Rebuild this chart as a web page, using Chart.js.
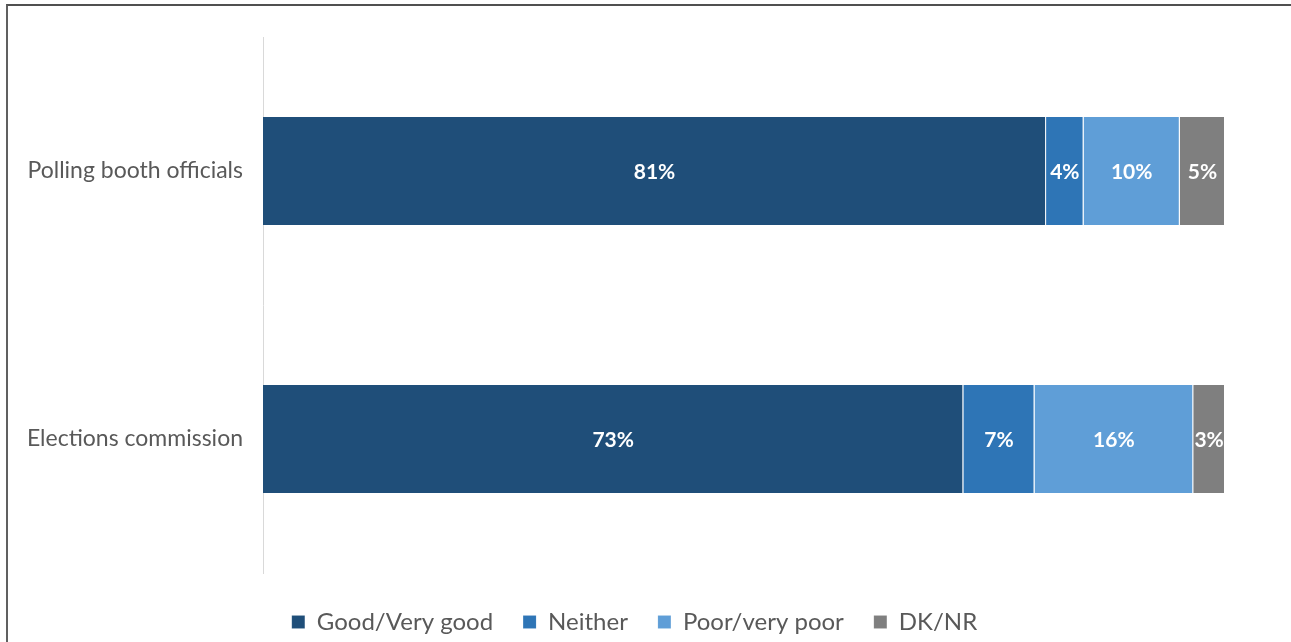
<!DOCTYPE html>
<html>
<head>
<meta charset="utf-8">
<script src="https://cdn.jsdelivr.net/npm/chart.js@4.4.1/dist/chart.umd.min.js"></script>
<style>
  html, body { margin: 0; padding: 0; background: #fff; overflow: hidden; }
  #wrap { position: relative; width: 1291px; height: 642px; overflow: hidden; }
  #frame { position: absolute; left: 6px; top: 4px; right: -10px; bottom: -10px;
           border-left: 2px solid #606060; border-top: 2px solid #505050; pointer-events: none; }
  canvas { position: absolute; left: 0; top: 0; }
</style>
</head>
<body>
<div id="wrap">
  <canvas id="c" width="1291" height="644"></canvas>
  <div id="frame"></div>
</div>
<script>
const categories = ["Polling booth officials", "Elections commission"];
const seriesNames = ["Good/Very good", "Neither", "Poor/very poor", "DK/NR"];
const goodVeryGood = [81.4, 72.8];
const neither = [3.9, 7.4];
const poorVeryPoor = [10.0, 16.5];
const dkNr = [4.7, 3.3];
const goodLabels = ["81%", "73%"];
const neitherLabels = ["4%", "7%"];
const poorLabels = ["10%", "16%"];
const dkLabels = ["5%", "3%"];
const colors = ["#1F4E79", "#2E75B6", "#5F9ED7", "#7F7F7F"];

const FONT = "Lato, 'Open Sans', sans-serif";

const seriesValues = [goodVeryGood, neither, poorVeryPoor, dkNr];
const seriesLabels = [goodLabels, neitherLabels, poorLabels, dkLabels];

const labelPlugin = {
  id: 'barLabels',
  afterLayout(chart) {
    if (chart.legend) { chart.legend.left += 22; chart.legend.right += 22; }
  },
  afterDatasetsDraw(chart) {
    const ctx = chart.ctx;
    ctx.save();
    ctx.font = "bold 21px " + FONT;
    ctx.fillStyle = "#FFFFFF";
    ctx.textAlign = "center";
    ctx.textBaseline = "middle";
    chart.data.datasets.forEach((ds, di) => {
      const meta = chart.getDatasetMeta(di);
      meta.data.forEach((el, i) => {
        const cx = (el.x + el.base) / 2;
        ctx.fillText(seriesLabels[di][i], cx, el.y + 1);
      });
    });
    ctx.restore();
  }
};

new Chart(document.getElementById('c'), {
  type: 'bar',
  data: {
    labels: categories,
    datasets: seriesNames.map((name, i) => ({
      label: name,
      data: seriesValues[i],
      backgroundColor: colors[i],
      borderColor: 'rgba(255,255,255,0.35)',
      borderWidth: { left: 0, right: 1, top: 0, bottom: 0 },
      borderSkipped: false,
      categoryPercentage: 0.403,
      barPercentage: 1.0
    }))
  },
  options: {
    indexAxis: 'y',
    responsive: false,
    animation: false,
    layout: { padding: { top: 37, right: 66, left: 0, bottom: 0 } },
    scales: {
      x: {
        stacked: true, min: 0, max: 100,
        grid: { display: false, drawTicks: false },
        border: { display: false },
        ticks: { display: false },
        afterFit(scale) { scale.height = 7; }
      },
      y: {
        stacked: true,
        grid: { display: false, drawTicks: false },
        border: { display: true, color: '#D9D9D9', width: 1 },
        ticks: { color: '#595959', font: { family: FONT, size: 23 }, padding: 20 },
        afterFit(scale) { scale.width = 263; }
      }
    },
    plugins: {
      legend: {
        position: 'bottom',
        labels: {
          color: '#595959',
          font: { family: FONT, size: 24 },
          boxWidth: 13, boxHeight: 13,
          padding: 30
        }
      },
      tooltip: { enabled: false }
    }
  },
  plugins: [labelPlugin]
});
</script>
</body>
</html>
